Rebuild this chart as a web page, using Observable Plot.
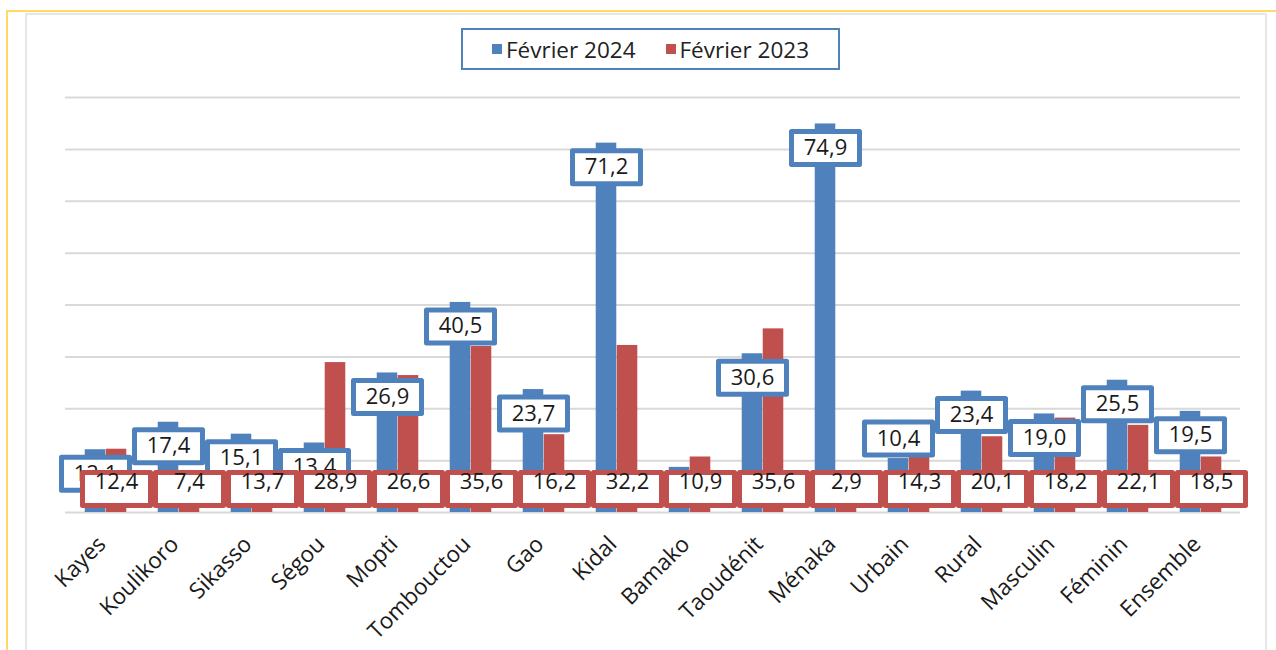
<!DOCTYPE html>
<html>
<head>
<meta charset="utf-8">
<script src="https://cdn.jsdelivr.net/npm/d3@7"></script>
<script src="https://cdn.jsdelivr.net/npm/@observablehq/plot@0.6"></script>
<style>
html, body { margin: 0; padding: 0; background: #fff; }
#wrap { position: relative; width: 1276px; height: 650px; overflow: hidden; background: #fff; font-family: "Open Sans", sans-serif; }
#outer { position: absolute; left: 6px; top: 10px; width: 1290px; height: 700px; border-left: 2px solid #FFD966; border-top: 2px solid #FFD966; }
#inner { position: absolute; left: 25px; top: 13px; width: 1238px; height: 700px; border: 2px solid #e6e6e6; }
#chart { position: absolute; left: 0; top: 0; }
#legend { position: absolute; left: 461px; top: 28px; width: 375px; height: 38px; border: 2px solid #4F81BD; background: #fff;
  display: flex; align-items: center; justify-content: center; gap: 30px; font-size: 22.5px; color: #222; }
#legend .item { display: flex; align-items: center; gap: 4px; }
#legend .sw { width: 10px; height: 10px; display: inline-block; }
</style>
</head>
<body>
<div id="wrap">
  <div id="outer"></div>
  <div id="inner"></div>
  <div id="chart"></div>
  <div id="legend"></div>
</div>
<script>
// ---- data ----
const categories = ["Kayes","Koulikoro","Sikasso","Ségou","Mopti","Tombouctou","Gao","Kidal","Bamako","Taoudénit","Ménaka","Urbain","Rural","Masculin","Féminin","Ensemble"];
const series = ["Février 2024", "Février 2023"];
const colors = ["#4F81BD", "#C0504D"];
// bar heights as drawn
const bars2024 = [12.1, 17.4, 15.1, 13.4, 26.9, 40.5, 23.7, 71.2, 8.7, 30.6, 74.9, 10.4, 23.4, 19.0, 25.5, 19.5];
const bars2023 = [12.2, 7.4, 13.7, 28.9, 26.4, 32.0, 15.0, 32.2, 10.7, 35.4, 2.9, 14.1, 14.6, 18.2, 16.8, 10.7];
// data labels as printed (null = no label shown)
const labels2024 = [12.1, 17.4, 15.1, 13.4, 26.9, 40.5, 23.7, 71.2, null, 30.6, 74.9, 10.4, 23.4, 19.0, 25.5, 19.5];
const labels2023 = [12.4, 7.4, 13.7, 28.9, 26.6, 35.6, 16.2, 32.2, 10.9, 35.6, 2.9, 14.3, 20.1, 18.2, 22.1, 18.5];
const yTicks = [0, 10, 20, 30, 40, 50, 60, 70, 80];
const raisedLabels = ["Urbain"]; // label moved above its bar in the original

// ---- build ----
const rows = categories.map((c, i) => ({cat: c, v24: bars2024[i], v23: bars2023[i], l24: labels2024[i], l23: labels2023[i]}));
const fmt = v => v.toFixed(1).replace(".", ",");

const W = 1276, H = 650;
const mL = 65, mR = W - 1240, mT = 97, mB = H - 512;
const band = (W - mL - mR) / categories.length;
const barW = 21;
const boxSym = {draw(ctx) { ctx.moveTo(-34, -16.5); ctx.lineTo(34, -16.5); ctx.lineTo(34, 16.5); ctx.lineTo(-34, 16.5); ctx.closePath(); }};

const labelled = rows.filter(d => d.l24 != null);
const normal = labelled.filter(d => !raisedLabels.includes(d.cat));
const raised = labelled.filter(d => raisedLabels.includes(d.cat));

const labelFont = {fontSize: 22, fill: "#1a1a1a", fontFamily: "Open Sans"};
const boxStyle = {symbol: boxSym, fill: "white", strokeWidth: 5, strokeLinejoin: "round"};

const chart = Plot.plot({
  width: W, height: H,
  marginLeft: mL, marginRight: mR, marginTop: mT, marginBottom: mB,
  style: {fontSize: "22px", fontFamily: "Open Sans, sans-serif", color: "#1a1a1a", background: "transparent"},
  x: {domain: categories, padding: 0, axis: null},
  y: {domain: [0, 80], axis: null},
  marks: [
    Plot.ruleY(yTicks, {stroke: "#d9d9d9", strokeWidth: 2}),
    Plot.barY(rows, {x: "cat", y: "v24", fill: colors[0], insetLeft: band / 2 - barW, insetRight: band / 2}),
    Plot.barY(rows, {x: "cat", y: "v23", fill: colors[1], insetLeft: band / 2, insetRight: band / 2 - barW}),
    // Février 2024 labels (inside end)
    Plot.dot(normal, {x: "cat", y: "v24", dx: -barW / 2, dy: 24, stroke: colors[0], ...boxStyle}),
    Plot.text(normal, {x: "cat", y: "v24", dx: -barW / 2, dy: 24, text: d => fmt(d.l24), ...labelFont}),
    Plot.dot(raised, {x: "cat", y: "v24", dx: -barW / 2, dy: -20, stroke: colors[0], ...boxStyle}),
    Plot.text(raised, {x: "cat", y: "v24", dx: -barW / 2, dy: -20, text: d => fmt(d.l24), ...labelFont}),
    // Février 2023 labels (inside base)
    Plot.dot(rows, {x: "cat", frameAnchor: "bottom", dx: barW / 2, dy: -23.5, stroke: colors[1], ...boxStyle}),
    Plot.text(rows, {x: "cat", frameAnchor: "bottom", dx: barW / 2, dy: -23.5, text: d => fmt(d.l23), ...labelFont}),
    Plot.axisX({tickRotate: -45, tickSize: 0, tickPadding: 14, dx: -4, dy: 14, fontSize: 22.5, label: null})
  ]
});
document.getElementById("chart").appendChild(chart);

// legend
const lg = document.getElementById("legend");
series.forEach((s, i) => {
  const it = document.createElement("span");
  it.className = "item";
  const sw = document.createElement("span");
  sw.className = "sw";
  sw.style.background = colors[i];
  const tx = document.createElement("span");
  tx.textContent = s;
  it.appendChild(sw); it.appendChild(tx);
  lg.appendChild(it);
});
</script>
</body>
</html>
